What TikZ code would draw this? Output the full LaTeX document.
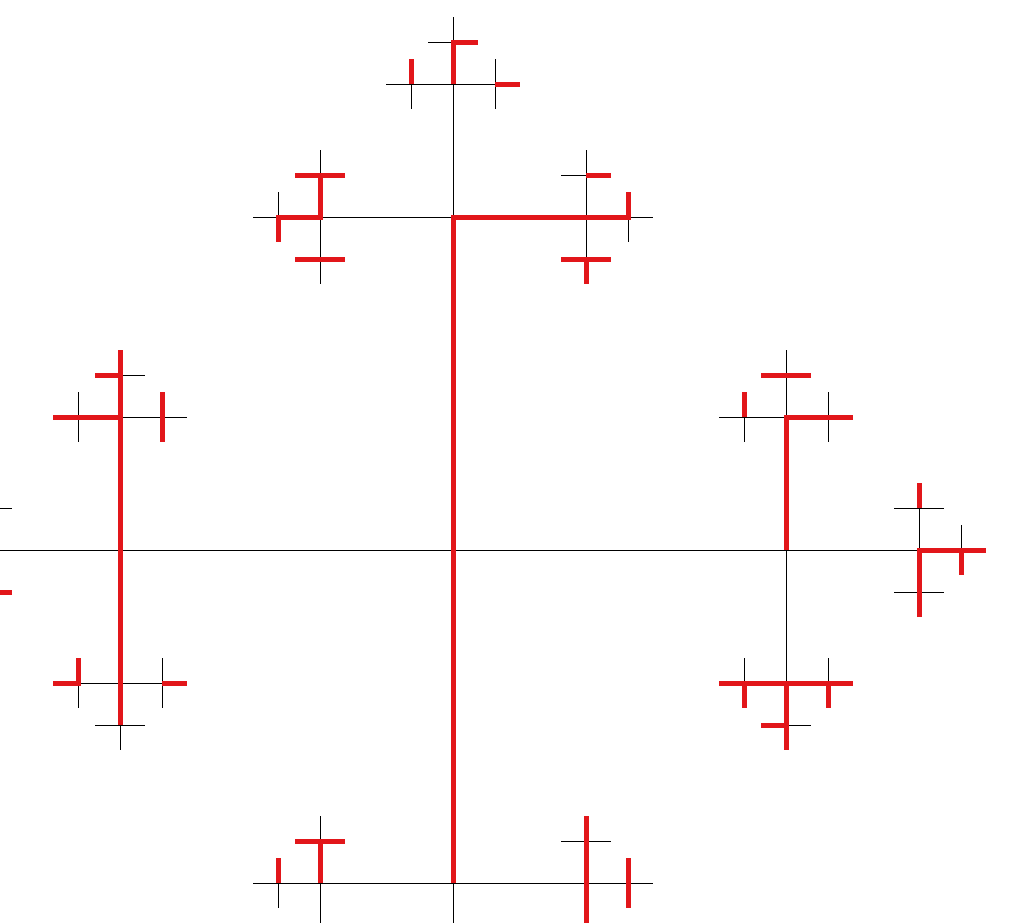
\documentclass[tikz,border=0pt]{standalone}
\definecolor{hred}{RGB}{226,22,26}
\tikzset{
  blk/.style={draw=black, line width=1pt},
  redline/.style={draw=hred, line width=5pt, line join=miter}
}
\begin{document}
\begin{tikzpicture}[x=1pt, y=-1pt]
\useasboundingbox (0,0) rectangle (1018,922);
\clip (0,0) rectangle (1018,922);
\fill[white] (0,0) rectangle (1018,922);
\def\LA{333}\def\LB{133}\def\LC{42}\def\LD{25}
\coordinate (C) at (453,550);
% black tree
\foreach \t in {0,90,180,270}{
  \draw[blk] (C) -- ++(\t:\LA) coordinate (P1);
  \foreach \s in {-90,0,90}{
    \pgfmathsetmacro\u{\t+\s}
    \draw[blk] (P1) -- ++(\u:\LB) coordinate (P2);
    \foreach \r in {-90,0,90}{
      \pgfmathsetmacro\v{\u+\r}
      \draw[blk] (P2) -- ++(\v:\LC) coordinate (P3);
      \foreach \q in {-90,0,90}{
        \pgfmathsetmacro\w{\v+\q}
        \draw[blk] (P3) -- ++(\w:\LD);
      }
    }
  }
}
% red path segments
\draw[redline] (453,883) -- (453,217) -- (628,217) -- (628,192);
\draw[redline] (586,175) -- (611,175);
\draw[redline] (561,259) -- (611,259);
\draw[redline] (586,259) -- (586,284);
\draw[redline] (411,84) -- (411,59);
\draw[redline] (453,84) -- (453,42) -- (478,42);
\draw[redline] (495,84) -- (520,84);
\draw[redline] (295,175) -- (345,175);
\draw[redline] (320,175) -- (320,217) -- (278,217) -- (278,242);
\draw[redline] (295,259) -- (345,259);
\draw[redline] (120,350) -- (120,725);
\draw[redline] (95,375) -- (120,375);
\draw[redline] (53,417) -- (120,417);
\draw[redline] (162,392) -- (162,442);
\draw[redline] (53,683) -- (78,683) -- (78,658);
\draw[redline] (162,683) -- (187,683);
\draw[redline] (-13,592) -- (12,592);
\draw[redline] (761,375) -- (811,375);
\draw[redline] (744,392) -- (744,417);
\draw[redline] (786,550) -- (786,417) -- (853,417);
\draw[redline] (919,483) -- (919,508);
\draw[redline] (919,617) -- (919,550) -- (986,550);
\draw[redline] (961,550) -- (961,575);
\draw[redline] (719,683) -- (853,683);
\draw[redline] (744,683) -- (744,708);
\draw[redline] (828,683) -- (828,708);
\draw[redline] (786,683) -- (786,750);
\draw[redline] (761,725) -- (786,725);
\draw[redline] (295,841) -- (345,841);
\draw[redline] (320,841) -- (320,883);
\draw[redline] (278,858) -- (278,883);
\draw[redline] (586,816) -- (586,925);
\draw[redline] (628,858) -- (628,908);
\end{tikzpicture}
\end{document}
